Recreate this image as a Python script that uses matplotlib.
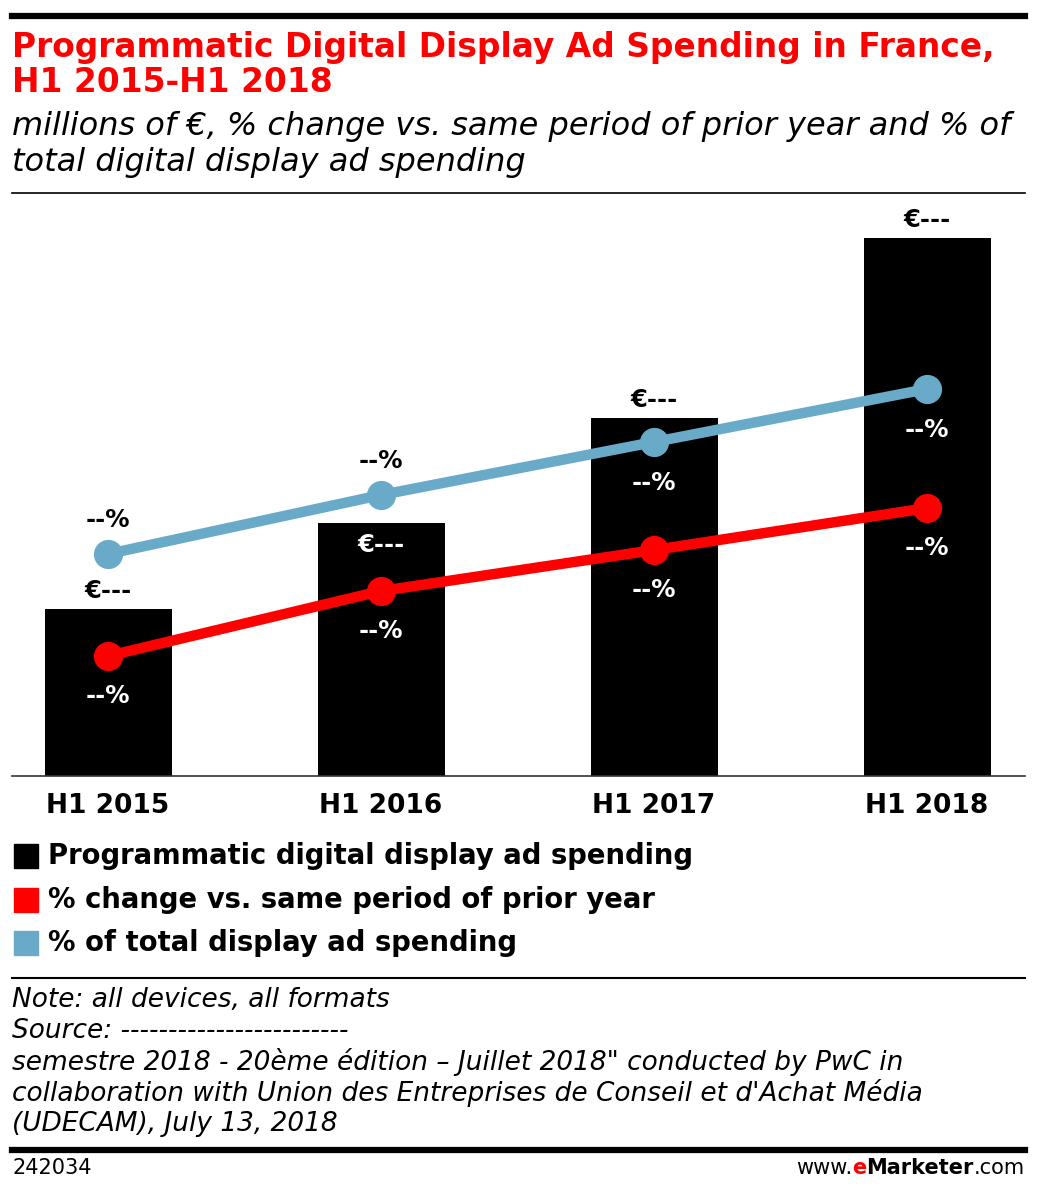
import matplotlib.pyplot as plt
from matplotlib.lines import Line2D
from matplotlib.patches import Rectangle

# chart data (arbitrary units)
periods = ['H1 2015', 'H1 2016', 'H1 2017', 'H1 2018']
spending = [167, 253, 358, 538]
pct_change = [120, 185, 226, 268]
pct_total = [222, 281, 334, 387]
spend_labels = ['€---', '€---', '€---', '€---']
change_labels = ['--%', '--%', '--%', '--%']
total_labels = ['--%', '--%', '--%', '--%']

RED = '#ff0000'
BLUE = '#6aaac9'
W, H = 1038, 1196

fig = plt.figure(figsize=(W / 100, H / 100), dpi=100)
sans = ['DejaVu Sans']

def fy(py):
    return 1 - py / H

def fx(px):
    return px / W

# rules
fig.add_artist(Line2D([fx(12), fx(1025)], [fy(16), fy(16)], color='black', lw=4.5))
fig.add_artist(Line2D([fx(12), fx(1025)], [fy(193), fy(193)], color='black', lw=1.2))
fig.add_artist(Line2D([fx(12), fx(1025)], [fy(978), fy(978)], color='black', lw=1.5))
fig.add_artist(Line2D([fx(12), fx(1025)], [fy(1150), fy(1150)], color='black', lw=4.5))

# title / subtitle
fig.text(fx(12), fy(47), 'Programmatic Digital Display Ad Spending in France,', color=RED,
         fontsize=23.7, fontweight='bold', family=sans, va='center')
fig.text(fx(12), fy(82), 'H1 2015-H1 2018', color=RED,
         fontsize=23.7, fontweight='bold', family=sans, va='center')
fig.text(fx(12), fy(127), 'millions of €, % change vs. same period of prior year and % of',
         fontsize=23, style='italic', family=sans, va='center')
fig.text(fx(12), fy(163), 'total digital display ad spending',
         fontsize=23, style='italic', family=sans, va='center')

# main axes
x0, x1 = 12, 1025
c0, step = 108, 273
ax = fig.add_axes([fx(x0), fy(776), fx(x1) - fx(x0), fy(200) - fy(776)])
ax.set_xlim((x0 - c0) / step, (x1 - c0) / step)
ax.set_ylim(0, 576)
xs = list(range(len(periods)))

ax.bar(xs, spending, width=127 / step, color='black', zorder=1)
ax.plot(xs, pct_change, color=RED, lw=7.5, marker='o', markersize=20, zorder=3)
ax.plot(xs, pct_total, color=BLUE, lw=7.5, marker='o', markersize=20, zorder=3)

for s in ['top', 'right', 'left']:
    ax.spines[s].set_visible(False)
ax.spines['bottom'].set_color('#333333')
ax.spines['bottom'].set_linewidth(1.2)
ax.set_yticks([])
ax.set_xticks(xs)
ax.set_xticklabels(periods, fontsize=19, fontweight='bold', family=sans)
ax.tick_params(axis='x', length=0, pad=12)

lab = dict(fontsize=17.5, fontweight='bold', ha='center', va='center',
           family=sans, zorder=4)
# bar labels: inside bar for H1 2016, above others
spend_inside = [False, True, False, False]
for i, v in enumerate(spending):
    if spend_inside[i]:
        ax.text(i, v - 22, spend_labels[i], color='white', **lab)
    else:
        ax.text(i, v + 18, spend_labels[i], color='black', **lab)
# share labels: above for first two, below (inside bar) for the rest
total_above = [True, True, False, False]
for i, v in enumerate(pct_total):
    if total_above[i]:
        ax.text(i, v + 34, total_labels[i], color='black', **lab)
    else:
        ax.text(i, v - 41, total_labels[i], color='white', **lab)
for i, v in enumerate(pct_change):
    ax.text(i, v - 40, change_labels[i], color='white', **lab)

# legend
leg_items = [('black', 'Programmatic digital display ad spending'),
             (RED, '% change vs. same period of prior year'),
             (BLUE, '% of total display ad spending')]
for k, (col, txt) in enumerate(leg_items):
    yc = 856 + 43.5 * k
    fig.add_artist(Rectangle((fx(14), fy(yc + 12)), fx(24), 24 / H, color=col))
    fig.text(fx(48), fy(yc), txt, fontsize=19.8, fontweight='bold', family=sans, va='center')

# notes
notes = ['Note: all devices, all formats',
         'Source: ------------------------',
         'semestre 2018 - 20ème édition – Juillet 2018" conducted by PwC in',
         "collaboration with Union des Entreprises de Conseil et d'Achat Média",
         '(UDECAM), July 13, 2018']
for k, t in enumerate(notes):
    fig.text(fx(12), fy(1000 + 31 * k), t, fontsize=19, style='italic', family=sans, va='center')

fig.text(fx(12), fy(1168), '242034', fontsize=15, family=sans, va='center')

# footer brand, laid out right to left
r = fig.canvas.get_renderer()
parts = [('.com', 'normal'), ('Marketer', 'bold'), ('e', 'bold'), ('www.', 'normal')]
right = fx(1025)
for txt, wt in parts:
    col = RED if txt == 'e' else 'black'
    t = fig.text(right, fy(1168), txt, fontsize=15, fontweight=wt, family=sans,
                 va='center', ha='right', color=col)
    right -= t.get_window_extent(renderer=r).width / W

fig.savefig('out.png', dpi=100)
